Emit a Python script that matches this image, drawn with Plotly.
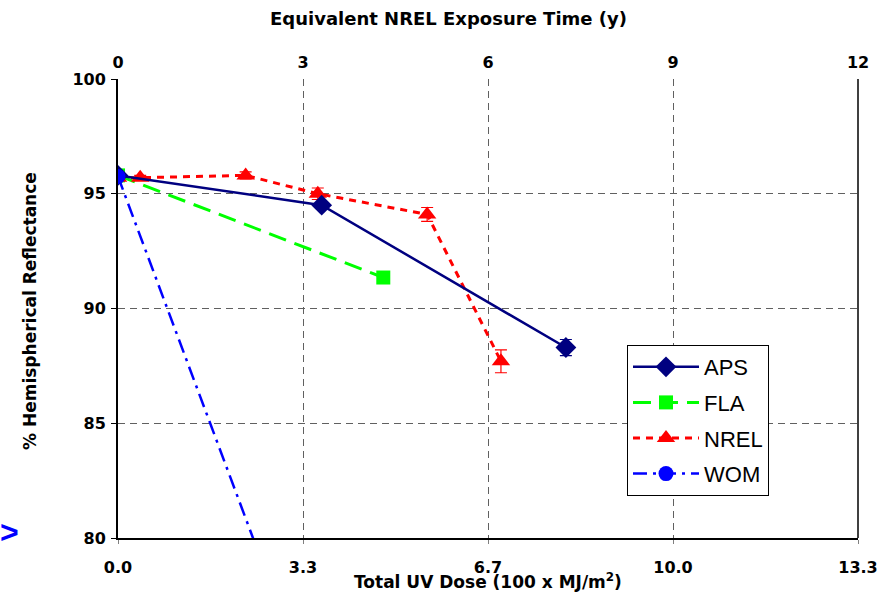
import plotly.graph_objects as go

aps_x = [0.0, 3.67, 8.07]
aps_y = [95.8, 94.5, 88.3]
aps_err = [0.0, 0.1, 0.35]

fla_x = [0.0, 4.78]
fla_y = [95.8, 91.35]

nrel_x = [0.0, 0.4, 2.3, 3.6, 5.57, 6.9]
nrel_y = [95.7, 95.7, 95.8, 95.0, 94.1, 87.7]
nrel_err = [0.0, 0.1, 0.15, 0.25, 0.3, 0.5]

wom_x = [0.0, 4.78]
wom_y = [95.75, 64.8]

bottom_tickvals = [0.0, 10/3, 20/3, 10.0, 40/3]
bottom_ticktext = ["0.0", "3.3", "6.7", "10.0", "13.3"]
top_tickvals = [0, 3, 6, 9, 12]
y_tickvals = [80, 85, 90, 95, 100]

BOLD = "DejaVu Sans, Liberation Sans, Arial, sans-serif"
LEG = "Liberation Sans, Arial, sans-serif"

fig = go.Figure()
fig.add_trace(go.Scatter(
    x=wom_x, y=wom_y, name="WOM", mode="lines+markers", legendrank=4, legendgroup="d",
    line=dict(color="#0000FF", width=2.5, dash="14px,6px,3px,6px"),
    marker=dict(symbol="circle", size=15, color="#0000FF"),
))
fig.add_trace(go.Scatter(
    x=fla_x, y=fla_y, name="FLA", mode="lines+markers", legendrank=2, legendgroup="b",
    line=dict(color="#00FF00", width=3, dash="18px,9px"),
    marker=dict(symbol="square", size=14, color="#00FF00"),
))
fig.add_trace(go.Scatter(
    x=nrel_x, y=nrel_y, name="NREL", mode="lines+markers", legendrank=3, legendgroup="c",
    line=dict(color="#FF0000", width=3, dash="7px,6px"),
    marker=dict(symbol="triangle-up", size=16, color="#FF0000"),
    error_y=dict(type="data", array=nrel_err, color="#FF0000", thickness=1.2, width=6),
))
fig.add_trace(go.Scatter(
    x=aps_x, y=aps_y, name="APS", mode="lines+markers", legendrank=1, legendgroup="a",
    line=dict(color="#000080", width=2.5),
    marker=dict(symbol="diamond", size=16, color="#000080"),
    error_y=dict(type="data", array=aps_err, color="#000080", thickness=1.2, width=6),
))
# re-draw WOM start marker on top
fig.add_trace(go.Scatter(
    x=wom_x[:1], y=wom_y[:1], mode="markers", showlegend=False,
    marker=dict(symbol="circle", size=15, color="#0000FF"), hoverinfo="skip",
))
# trace for the top axis
fig.add_trace(go.Scatter(x=top_tickvals, y=[None] * len(top_tickvals), xaxis="x2",
                         showlegend=False, mode="markers", hoverinfo="skip"))

tickfont = dict(size=16, family=BOLD, color="black", weight="bold")

fig.update_layout(
    width=882, height=595,
    margin=dict(l=118, r=24, t=79, b=57),
    paper_bgcolor="white", plot_bgcolor="white",
    font=dict(family=BOLD, color="black"),
    showlegend=True,
    legend=dict(
        x=(627 - 118) / 740, y=(538 - 345) / 459, xanchor="left", yanchor="top",
        bgcolor="white", bordercolor="black", borderwidth=1,
        font=dict(size=22, family=LEG),
        traceorder="grouped", tracegroupgap=4, itemwidth=66,
    ),
    xaxis=dict(
        range=[0, 40/3], tickvals=bottom_tickvals, ticktext=bottom_ticktext,
        showline=True, linecolor="black", linewidth=2,
        ticks="outside", ticklen=4, tickcolor="gray",
        showgrid=True, gridcolor="#606060", griddash="7px,5px", gridwidth=1,
        tickfont=tickfont, zeroline=False, ticklabelstandoff=10, automargin=False,
    ),
    xaxis2=dict(
        range=[0, 12], tickvals=top_tickvals, overlaying="x", side="top",
        showline=False, showgrid=False, ticks="",
        tickfont=tickfont, zeroline=False, ticklabelstandoff=7, automargin=False,
    ),
    yaxis=dict(
        range=[80, 100], tickvals=y_tickvals,
        showline=True, linecolor="black", linewidth=2,
        ticks="outside", ticklen=5, tickcolor="black",
        showgrid=True, gridcolor="#606060", griddash="7px,5px", gridwidth=1,
        tickfont=tickfont, zeroline=False, ticklabelstandoff=2, automargin=False,
    ),
    shapes=[
        dict(type="line", xref="paper", yref="paper", x0=1, x1=1, y0=0, y1=1,
             line=dict(color="black", width=1.5)),
    ],
    annotations=[
        dict(text="Equivalent NREL Exposure Time (y)", xref="paper", yref="paper",
             x=(448 - 118) / 740, y=1, xanchor="center", yanchor="middle",
             yshift=79 - 18, showarrow=False,
             font=dict(size=18, family=BOLD, color="black", weight="bold")),
        dict(text="Total UV Dose (100 x MJ/m<sup>2</sup>)", xref="paper", yref="paper",
             x=0.5, y=0, xanchor="center", yanchor="middle",
             yshift=-(581 - 538), showarrow=False,
             font=dict(size=17, family=BOLD, color="black", weight="bold")),
        dict(text="% Hemispherical Reflectance", xref="paper", yref="paper",
             x=0, y=(538 - 311) / 459, xanchor="center", yanchor="middle", textangle=-90,
             xshift=-(118 - 30), showarrow=False,
             font=dict(size=17, family=BOLD, color="black", weight="bold")),
        dict(text="&gt;", xref="paper", yref="paper", x=0, y=0,
             xanchor="left", yanchor="middle", textangle=0,
             xshift=-118 - 2, yshift=538 - 532, showarrow=False,
             font=dict(size=32, family=LEG, color="#0000FF", weight="bold")),
    ],
)

fig.write_html("out.html", config={"displayModeBar": False},
               post_script="document.body.style.margin='0';document.body.style.overflow='hidden';")
